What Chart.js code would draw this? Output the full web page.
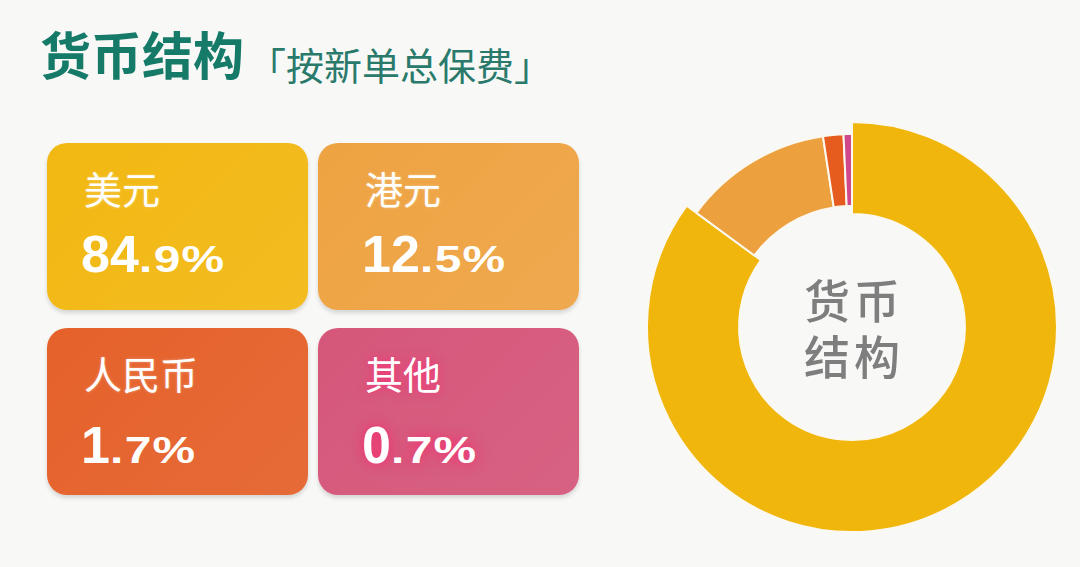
<!DOCTYPE html>
<html>
<head>
<meta charset="utf-8">
<script src="https://cdn.jsdelivr.net/npm/chart.js@4.4.1/dist/chart.umd.min.js"></script>
<style>
    html, body {
        margin: 0;
        padding: 0;
        width: 1080px;
        height: 567px;
        background: #f8f8f7;
        overflow: hidden;
        font-family: "Noto Sans CJK SC", "Noto Sans", sans-serif;
    }
    #page { position: relative; width: 1080px; height: 567px; }
    .title {
        position: absolute; left: 40px; top: 28px;
        font-size: 51px; font-weight: 700; color: #167a68;
        line-height: 1;
    }
    .subtitle {
        position: absolute; left: 248px; top: 45px;
        font-size: 38px; font-weight: 400; color: #2a7a6c; line-height: 1;
    }
    .card {
        position: absolute; width: 261px; height: 167px;
        border-radius: 20px;
        box-shadow: 0 3px 4px rgba(0, 0, 0, 0.14);
        color: #fff;
    }
    .card .label {
        position: absolute; top: 26px;
        font-size: 38px; line-height: 1;
        text-shadow: 0 0 3px rgba(255, 255, 255, 0.35);
    }
    .card .value {
        position: absolute;
        font-family: "Liberation Sans", Arial, sans-serif;
        font-weight: 700; font-size: 52px; line-height: 52px; white-space: nowrap;
    }
    .card .value .small {
        display: inline-block; font-size: 36px; letter-spacing: 1px;
        transform: scaleX(1.33); transform-origin: left bottom;
    }
    .ring {
        position: absolute; left: 632px; top: 107px;
        width: 440px; height: 440px;
    }
    .center-text {
        position: absolute; left: 754px; top: 270px; width: 200px;
        text-align: center; font-size: 46px; font-weight: 500;
        color: #7e7e7e; line-height: 56px; letter-spacing: 4px;
    }
</style>
</head>
<body>
<div id="page">
    <div class="title">货币结构</div>
    <div class="subtitle">「按新单总保费」</div>
    <div id="cards"></div>
    <div class="ring"><canvas id="bigRing" width="440" height="440"></canvas></div>
    <div class="ring"><canvas id="smallRing" width="440" height="440"></canvas></div>
    <div class="center-text">货币<br>结构</div>
</div>
<script>
// currency share of new-business premium (%)
const categories = ['美元', '港元', '人民币', '其他'];
const shares = [84.9, 12.5, 1.7, 0.7];
const sliceColors = ['#f0b60c', '#eca13e', '#e65b1e', '#d0478a'];
const cardColors = ['#f2b812', '#eea342', '#e5612a', '#d5577a'];

// card grid: 2 columns x 2 rows
const colLeft = [47, 318];
const colTextX = [37, 47];
const rowTop = [143, 328];
const rowBaseline = [129, 135];

const cardsDiv = document.getElementById('cards');
categories.forEach((name, i) => {
    const col = i % 2;
    const row = Math.floor(i / 2);
    const card = document.createElement('div');
    card.className = 'card';
    card.style.left = colLeft[col] + 'px';
    card.style.top = rowTop[row] + 'px';
    card.style.background = `linear-gradient(135deg, ${cardColors[i]}, ${cardColors[i]}ee)`;

    const parts = shares[i].toFixed(1).split('.');
    const label = document.createElement('div');
    label.className = 'label';
    label.style.left = colTextX[col] + 'px';
    label.textContent = name;

    const value = document.createElement('div');
    value.className = 'value';
    value.style.left = (colTextX[col] - 3) + 'px';
    value.style.top = (rowBaseline[row] - 44) + 'px';
    value.innerHTML = `<span class="big">${parts[0]}</span><span class="small">.${parts[1]}%</span>`;
    if (i === 3) {
        // pink glow behind the last card's text
        label.style.textShadow = '0 0 10px rgba(255, 40, 120, 0.9)';
        value.style.textShadow = '0 0 12px rgba(255, 30, 110, 0.9)';
    }
    card.appendChild(label);
    card.appendChild(value);
    cardsDiv.appendChild(card);
});

const gapColor = '#fbf8f0';

// outer ring: only the dominant slice, drawn a bit thicker
new Chart(document.getElementById('bigRing'), {
    type: 'doughnut',
    data: {
        labels: categories,
        datasets: [{
            data: shares,
            backgroundColor: shares.map((v, i) => i === 0 ? sliceColors[0] : 'rgba(0,0,0,0)'),
            borderColor: shares.map((v, i) => i === 0 ? gapColor : 'rgba(0,0,0,0)'),
            borderWidth: shares.map((v, i) => i === 0 ? 2 : 0),
        }],
    },
    options: {
        responsive: false,
        animation: false,
        radius: 205,
        cutout: '55.1%',
        layout: { padding: 0 },
        plugins: { legend: { display: false }, tooltip: { enabled: false } },
    },
});

// inner ring: the smaller slices, slightly thinner band
new Chart(document.getElementById('smallRing'), {
    type: 'doughnut',
    data: {
        labels: categories,
        datasets: [{
            data: shares,
            backgroundColor: shares.map((v, i) => i === 0 ? 'rgba(0,0,0,0)' : sliceColors[i]),
            borderColor: shares.map((v, i) => i === 0 ? 'rgba(0,0,0,0)' : gapColor),
            borderWidth: shares.map((v, i) => i === 0 ? 0 : 2),
        }],
    },
    options: {
        responsive: false,
        animation: false,
        radius: 193,
        cutout: '62.7%',
        layout: { padding: 0 },
        plugins: { legend: { display: false }, tooltip: { enabled: false } },
    },
});
</script>
</body>
</html>
